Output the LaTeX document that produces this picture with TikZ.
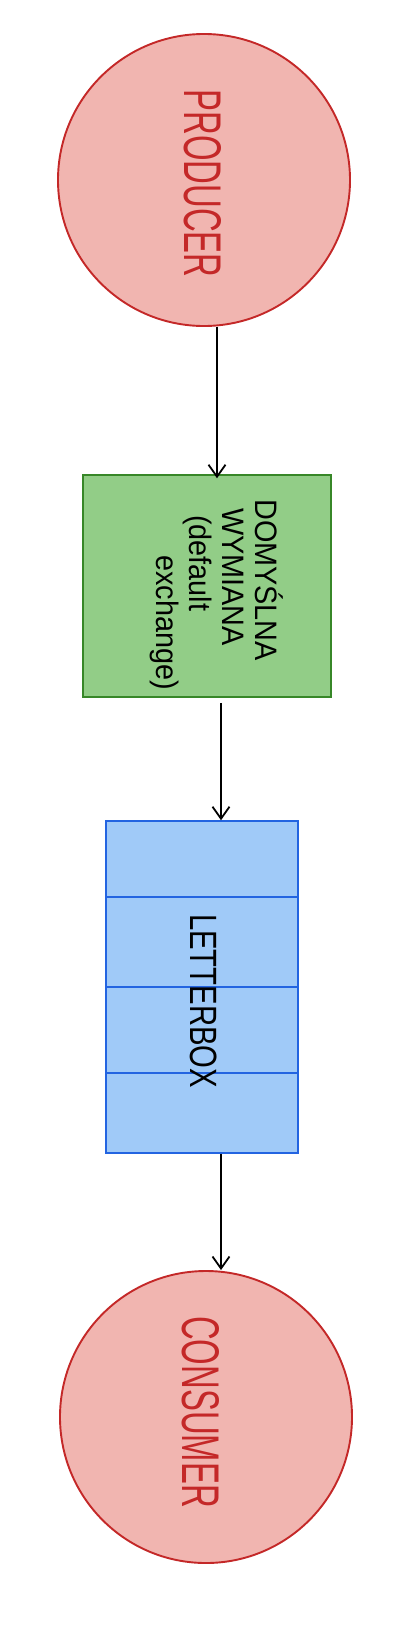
\documentclass[tikz,border=0pt]{standalone}
\usepackage{fontspec}
\usetikzlibrary{arrows.meta}
\newfontfamily\handP[FakeStretch=0.62]{Liberation Sans}
\newfontfamily\handG[FakeStretch=0.93]{Liberation Sans}
\newfontfamily\handL[FakeStretch=0.77]{Liberation Sans}
\definecolor{prodfill}{RGB}{241,181,176}
\definecolor{prodline}{RGB}{196,40,40}
\definecolor{greenfill}{RGB}{146,205,135}
\definecolor{greenline}{RGB}{55,135,40}
\definecolor{bluefill}{RGB}{160,202,248}
\definecolor{blueline}{RGB}{35,100,225}
\tikzset{
  circ/.style={circle, draw=prodline, fill=prodfill, line width=1.9pt, minimum size=292pt, inner sep=0pt},
  circtext/.style={rotate=-90, inner sep=0pt, text=prodline, font=\handP\fontsize{53}{55}\selectfont},
  exbox/.style={rectangle, draw=greenline, fill=greenfill, line width=1.5pt, minimum width=248pt, minimum height=222pt, inner sep=0pt},
  qbox/.style={rectangle, draw=blueline, fill=bluefill, line width=1.5pt, minimum width=192pt, minimum height=332pt, inner sep=0pt},
  qline/.style={draw=blueline, line width=1.5pt},
  arr/.style={draw=black, line width=1.8pt, -{Straight Barb[length=12pt,width=17pt,line width=1.8pt]}},
}
\begin{document}
\begin{tikzpicture}[x=1pt,y=-1pt]
\useasboundingbox (0,0) rectangle (409,1630);
\fill[white] (0,0) rectangle (409,1630);
% nodes
\node[circ] (prod) at (204,180) {};
\node[circtext] (prodtxt) at (202.5,183.5) {PRODUCER};
\node[exbox] (ex) at (207,586) {};
\node[rotate=-90, inner sep=0pt, align=left, font=\handG\fontsize{31}{33}\selectfont] (extxt) at (217,594.5)
  {DOMYŚLNA\\\hspace*{9pt}WYMIANA\\\hspace*{16pt}(default\\\hspace*{56pt}exchange)};
\node[qbox] (q) at (202,987) {};
\coordinate (d1) at (0,897);
\coordinate (d2) at (0,987);
\coordinate (d3) at (0,1073);
\draw[qline] (q.west |- d1) -- (q.east |- d1);
\draw[qline] (q.west |- d2) -- (q.east |- d2);
\draw[qline] (q.west |- d3) -- (q.east |- d3);
\node[rotate=-90, inner sep=0pt, font=\handL\fontsize{38}{40}\selectfont] (qtxt) at (203.5,1001) {LETTERBOX};
\node[circ] (cons) at (206,1417) {};
\node[circtext] (constxt) at (201,1412) {CONSUMER};
% connectors
\draw[arr] ([xshift=13pt]prod.south) -- ([xshift=10pt,yshift=-4pt]ex.north);
\draw[arr] ([xshift=14pt,yshift=-5pt]ex.south) -- ([xshift=19pt]q.north);
\draw[arr] ([xshift=19pt]q.south) -- ([xshift=15pt]cons.north);
\end{tikzpicture}
\end{document}
